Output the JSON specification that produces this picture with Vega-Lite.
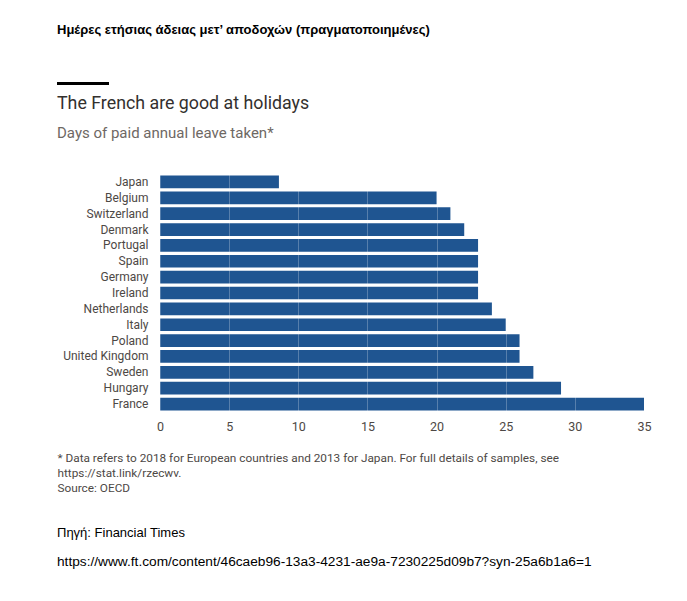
{
  "$schema": "https://vega.github.io/schema/vega-lite/v6.json",
  "background": "white",
  "padding": {"left": 57, "top": 24, "right": 10, "bottom": 10},
  "config": {"view": {"stroke": null}},
  "title": {
    "text": "Ημέρες ετήσιας άδειας μετ’ αποδοχών (πραγματοποιημένες)",
    "anchor": "start",
    "frame": "bounds",
    "font": "Liberation Sans",
    "fontSize": 13,
    "fontWeight": "bold",
    "color": "#000000",
    "offset": 45
  },
  "vconcat": [
    {
      "title": {
        "text": "Πηγή: Financial Times",
        "subtitle": "https://www.ft.com/content/46caeb96-13a3-4231-ae9a-7230225d09b7?syn-25a6b1a6=1",
        "orient": "bottom",
        "anchor": "start",
        "frame": "bounds",
        "font": "Liberation Sans",
        "fontSize": 13,
        "fontWeight": "normal",
        "color": "#000000",
        "subtitleFont": "Liberation Sans",
        "subtitleFontSize": 13.7,
        "subtitleColor": "#000000",
        "subtitlePadding": 15,
        "offset": 33
      },
      "spacing": 10,
      "vconcat": [
        {
          "width": 52,
          "height": 3,
          "data": {"values": [{"start": 0, "end": 1}]},
          "mark": {"type": "rect", "color": "#000000", "xOffset": -103, "x2Offset": -103},
          "encoding": {
            "x": {"field": "start", "type": "quantitative", "scale": {"domain": [0, 1], "nice": false}, "axis": null},
            "x2": {"field": "end"}
          }
        },
        {
          "title": {
            "text": "The French are good at holidays",
            "subtitle": "Days of paid annual leave taken*",
            "anchor": "start",
            "frame": "bounds",
            "font": "Roboto",
            "fontSize": 17.8,
            "fontWeight": "normal",
            "color": "#33302e",
            "subtitleFont": "Roboto",
            "subtitleFontSize": 15,
            "subtitleColor": "#6e6864",
            "subtitlePadding": 13,
            "offset": 33
          },
          "width": 484,
          "height": 238,
          "data": {
            "values": [
              {"country": "Japan", "days": 8.6},
              {"country": "Belgium", "days": 20},
              {"country": "Switzerland", "days": 21},
              {"country": "Denmark", "days": 22},
              {"country": "Portugal", "days": 23},
              {"country": "Spain", "days": 23},
              {"country": "Germany", "days": 23},
              {"country": "Ireland", "days": 23},
              {"country": "Netherlands", "days": 24},
              {"country": "Italy", "days": 25},
              {"country": "Poland", "days": 26},
              {"country": "United Kingdom", "days": 26},
              {"country": "Sweden", "days": 27},
              {"country": "Hungary", "days": 29},
              {"country": "France", "days": 35}
            ]
          },
          "mark": {"type": "bar", "color": "#1f5591"},
          "encoding": {
            "y": {
              "field": "country",
              "type": "nominal",
              "sort": null,
              "scale": {"paddingInner": 0.2, "paddingOuter": 0.1},
              "axis": {
                "title": null,
                "domain": false,
                "ticks": false,
                "labelPadding": 12,
                "labelFont": "Roboto",
                "labelFontSize": 12,
                "labelColor": "#4d4845"
              }
            },
            "x": {
              "field": "days",
              "type": "quantitative",
              "scale": {"domain": [0, 35], "nice": false},
              "axis": {
                "values": [0, 5, 10, 15, 20, 25, 30, 35],
                "domain": false,
                "ticks": false,
                "grid": true,
                "gridColor": "#ffffff",
                "gridOpacity": 0.25,
                "zindex": 1,
                "labelFlush": false,
                "labelPadding": 8,
                "labelFont": "Roboto",
                "labelFontSize": 12.5,
                "labelColor": "#4d4845",
                "title": [
                  "* Data refers to 2018 for European countries and 2013 for Japan. For full details of samples, see",
                  "https://stat.link/rzecwv.",
                  "Source: OECD"
                ],
                "titleAnchor": "start",
                "titleAlign": "left",
                "titleBaseline": "top",
                "titleX": -103,
                "titleY": 40,
                "titleFont": "Roboto",
                "titleFontSize": 11.8,
                "titleFontWeight": "normal",
                "titleColor": "#4d4845",
                "titleLineHeight": 15
              }
            }
          }
        }
      ]
    }
  ]
}
